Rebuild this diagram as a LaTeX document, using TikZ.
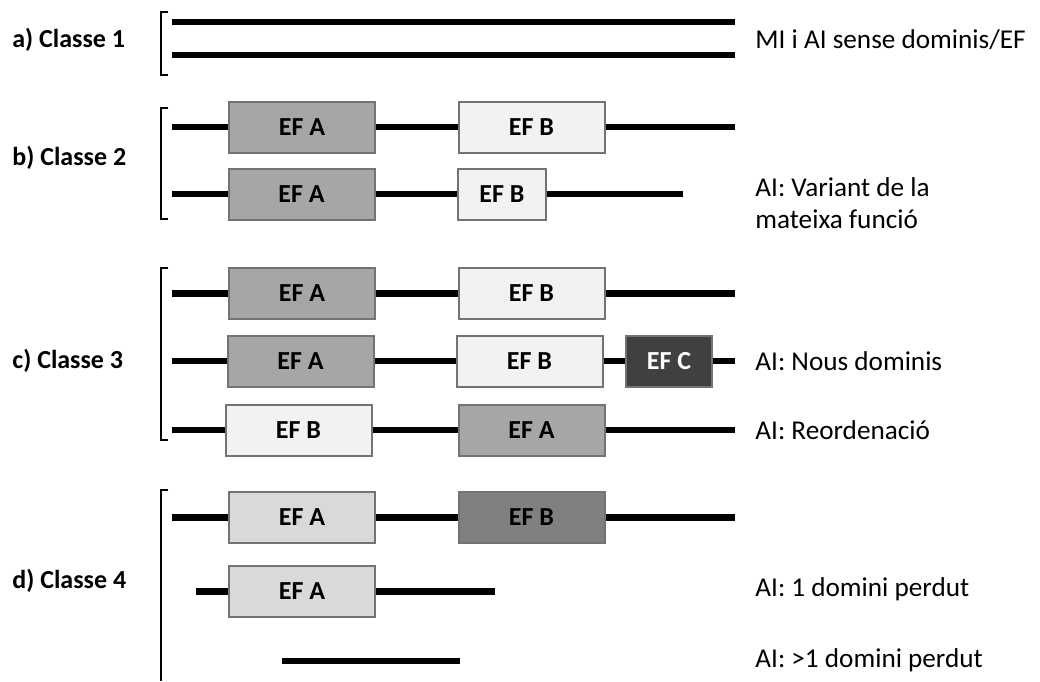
\documentclass[tikz,border=0pt]{standalone}
\usepackage{fontspec}
\setmainfont{Carlito}
\definecolor{efmid}{HTML}{A6A6A6}
\definecolor{eflight}{HTML}{F2F2F2}
\definecolor{efpale}{HTML}{D9D9D9}
\definecolor{efgrey}{HTML}{808080}
\definecolor{efdark}{HTML}{404040}
\tikzstyle{dom}=[rectangle,draw=black!55,line width=1pt,minimum width=73pt,minimum height=25.5pt,font=\bfseries\fontsize{13}{15}\selectfont]
\tikzstyle{domA}=[dom,fill=efmid]
\tikzstyle{domB}=[dom,fill=eflight]
\tikzstyle{seq}=[line width=3.2pt]
\tikzstyle{claus}=[line width=0.8pt]
\tikzstyle{classe}=[anchor=west,inner sep=0pt,font=\bfseries\fontsize{13}{15}\selectfont]
\tikzstyle{nota}=[anchor=west,inner sep=0pt,align=left,font=\fontsize{13.6}{16}\selectfont]

\begin{document}
\begin{tikzpicture}[x=0.5pt,y=-0.5pt]
\useasboundingbox (0,0) rectangle (1040,681);
% labels
\node[classe] (La) at (12,40) {a) Classe 1};
\node[classe] (Lb) at (12,158) {b) Classe 2};
\node[classe] (Lc) at (12,361) {c) Classe 3};
\node[classe] (Ld) at (12,581) {d) Classe 4};
% brackets
\draw[claus] (168,12)--(161,12)--(161,75)--(168,75);
\draw[claus] (168,108)--(161,108)--(161,219)--(168,219);
\draw[claus] (168,268)--(161,268)--(161,440)--(168,440);
\draw[claus] (168,490)--(161,490)--(161,681);
% a) Classe 1
\coordinate (a1s) at (172,22); \coordinate (a1e) at (735,22);
\coordinate (a2s) at (172,55); \coordinate (a2e) at (735,55);
\draw[seq] (a1s)--(a1e);
\draw[seq] (a2s)--(a2e);
\node[nota] (Na) at (755,40) {MI i AI sense dominis/EF};
% b) Classe 2
\coordinate (b1s) at (172,127); \coordinate (b1e) at (735,127);
\node[domA] (b1A) at (302,127) {EF A};
\node[domB] (b1B) at (531.5,127) {EF B};
\draw[seq] (b1s)--(b1A)--(b1B)--(b1e);
\coordinate (b2s) at (172,194); \coordinate (b2e) at (683,194);
\node[domA] (b2A) at (301.5,194) {EF A};
\node[domB,minimum width=44pt] (b2B) at (502,194) {EF B};
\draw[seq] (b2s)--(b2A)--(b2B)--(b2e);
\node[nota] (Nb) at (755,203) {AI: Variant de la\\mateixa funció};
% c) Classe 3
\coordinate (c1s) at (172,293.5); \coordinate (c1e) at (735,293.5);
\node[domA] (c1A) at (302,293.5) {EF A};
\node[domB] (c1B) at (531.5,293.5) {EF B};
\draw[seq] (c1s)--(c1A)--(c1B)--(c1e);
\coordinate (c2s) at (172,361); \coordinate (c2e) at (735,361);
\node[domA] (c2A) at (300.5,361) {EF A};
\node[domB] (c2B) at (529.5,361) {EF B};
\node[dom,fill=efdark,text=white,minimum width=43pt] (c2C) at (669,361) {EF C};
\draw[seq] (c2s)--(c2A)--(c2B)--(c2C)--(c2e);
\node[nota] (Nc2) at (755,361) {AI: Nous dominis};
\coordinate (c3s) at (172,430); \coordinate (c3e) at (735,430);
\node[domB] (c3B) at (298.5,430) {EF B};
\node[domA] (c3A) at (531.5,430) {EF A};
\draw[seq] (c3s)--(c3B)--(c3A)--(c3e);
\node[nota] (Nc3) at (755,430) {AI: Reordenació};
% d) Classe 4
\coordinate (d1s) at (172,517.5); \coordinate (d1e) at (735,517.5);
\node[dom,fill=efpale] (d1A) at (302,517.5) {EF A};
\node[dom,fill=efgrey] (d1B) at (531.5,517.5) {EF B};
\draw[seq] (d1s)--(d1A)--(d1B)--(d1e);
\coordinate (d2s) at (196,591.5); \coordinate (d2e) at (495,591.5);
\node[dom,fill=efpale] (d2A) at (302,591.5) {EF A};
\draw[seq] (d2s)--(d2A)--(d2e);
\node[nota] (Nd2) at (755,589) {AI: 1 domini perdut};
\coordinate (d3s) at (282,661); \coordinate (d3e) at (460,661);
\draw[seq] (d3s)--(d3e);
\node[nota] (Nd3) at (755,660) {AI: >1 domini perdut};
\end{tikzpicture}
\end{document}
